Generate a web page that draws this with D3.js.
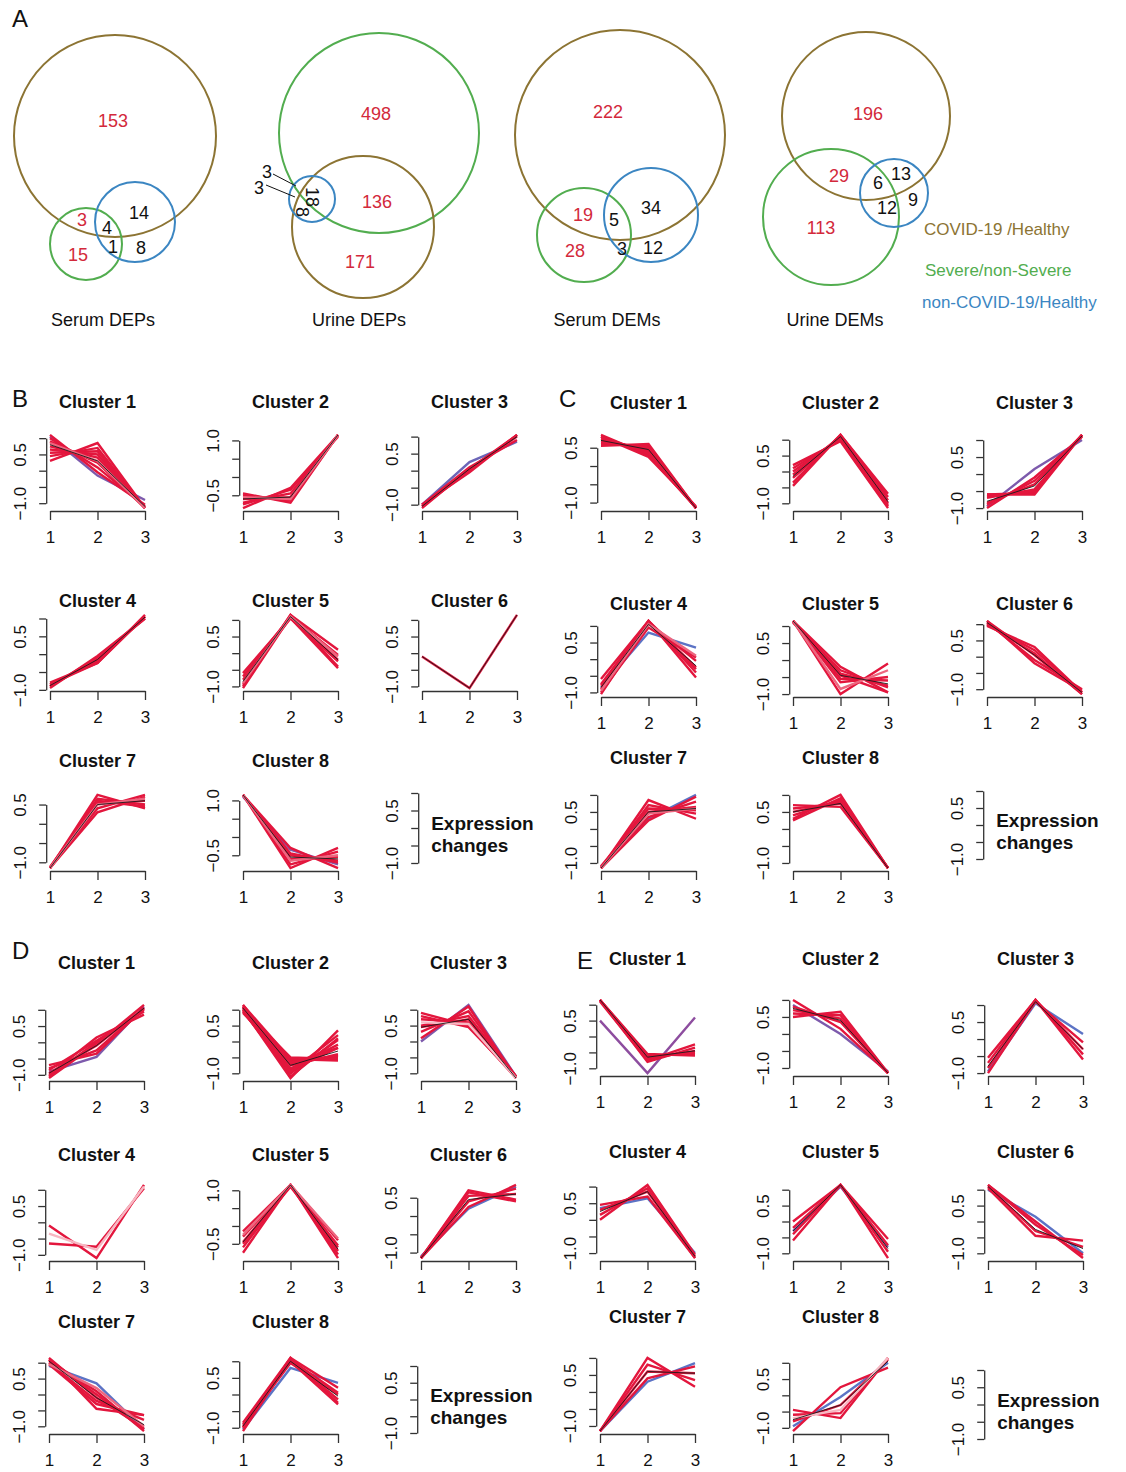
<!DOCTYPE html>
<html lang="en">
<head>
<meta charset="UTF-8">
<title>DEPs / DEMs clusters</title>
<script src="https://cdn.jsdelivr.net/npm/d3@7"></script>
<style>
  body { margin: 0; background-color: #ffffff; }
  text { font-family: "Liberation Sans", Arial, sans-serif; fill: #111; }
  .panel-letter { font-size: 24px; }
  .venn-title { font-size: 18px; }
  .venn-count { font-size: 18px; }
  .venn-legend { font-size: 17px; }
  .cluster-title { font-size: 18px; font-weight: bold; }
  .axis text { font-size: 17px; fill: #111; }
  .axis line, .axis path { stroke: #333; stroke-width: 1.3px; }
  .expr { font-size: 19px; font-weight: bold; }
  .profile { fill: none; stroke-width: 2.4px; }
  .center { fill: none; stroke: #1a1a1a; stroke-width: 0.9px; }
</style>
</head>
<body>
<script>
var width = 1126, height = 1472;

// ---- panel A data ----
var vennTitles = ['Serum DEPs', 'Urine DEPs', 'Serum DEMs', 'Urine DEMs'];
var vennSetNames = ['COVID-19 /Healthy', 'Severe/non-Severe', 'non-COVID-19/Healthy'];
var vennCounts = [
  [153, 3, 4, 14, 15, 1, 8],
  [498, 136, 171, 18, 8, 3, 3],
  [222, 19, 5, 34, 28, 3, 12],
  [196, 29, 6, 13, 12, 9, 113]
];
// A = COVID-19/Healthy, B = Severe/non-Severe, C = non-COVID-19/Healthy
var vennRegions = [
  ['A', 'AB', 'ABC', 'AC', 'B', 'BC', 'C'],
  ['B', 'AB', 'A', 'ABC', 'AC', 'BC', 'C'],
  ['A', 'AB', 'ABC', 'AC', 'B', 'BC', 'C'],
  ['A', 'AB', 'ABC', 'AC', 'BC', 'C', 'B']
];

// ---- panels B-E data: z-scored profiles over 3 groups ----
var xPoints = [1, 2, 3];
var clusterNames = ['Cluster 1', 'Cluster 2', 'Cluster 3', 'Cluster 4', 'Cluster 5', 'Cluster 6', 'Cluster 7', 'Cluster 8'];

var serumDEPsProfiles = [
  [[1.05,-0.15,-0.9],[1.1,-0.05,-1.05],[1.0,0.1,-1.1],[0.9,0.25,-1.15],[0.75,0.4,-1.15],[0.65,0.5,-1.15],[0.55,0.6,-1.15],[0.45,0.7,-1.15],[0.3,0.85,-1.15],[0.85,0.3,-1.15]],
  [[-0.6,-0.55,1.15],[-0.45,-0.7,1.15],[-0.7,-0.45,1.15],[-0.75,-0.35,1.1],[-0.5,-0.65,1.15],[-0.85,-0.3,1.15],[-0.55,-0.6,1.15]],
  [[-1.0,0.25,0.85],[-1.05,0.0,1.05],[-1.0,0.1,0.9],[-1.1,0.05,1.05],[-1.0,-0.05,1.05],[-1.05,0.05,1.0]],
  [[-0.9,-0.15,1.05],[-0.85,-0.2,1.05],[-0.95,-0.05,1.0],[-0.8,-0.25,1.05],[-0.9,-0.1,1.0],[-0.85,-0.25,1.1]],
  [[-1.05,1.1,-0.05],[-0.95,1.15,-0.2],[-0.8,1.05,-0.25],[-0.7,1.1,-0.4],[-0.6,1.05,-0.45],[-1.0,1.15,0.1],[-0.9,1.1,-0.1]],
  [[-0.1,-1.05,1.15]],
  [[-1.15,0.75,0.4],[-1.15,0.65,0.5],[-1.15,0.55,0.6],[-1.15,0.4,0.75],[-1.15,0.3,0.7],[-1.12,0.6,0.45],[-1.15,0.5,0.65]],
  [[1.1,-0.35,-0.75],[1.15,-0.3,-0.85],[1.15,-0.45,-0.7],[1.15,-0.6,-0.55],[1.15,-0.75,-0.4],[1.15,-0.85,-0.3],[1.15,-0.5,-0.65],[1.15,-0.65,-0.5]]
];
var serumDEPsMembership = [
  [0.45,0.8,0.8,0.8,0.85,0.85,0.8,0.8,0.8,0.95],
  [0.8,0.8,0.8,0.8,0.85,0.8,0.95],
  [0.4,0.8,0.8,0.8,0.85,0.8],
  [0.8,0.8,0.8,0.8,0.85,0.8],
  [0.8,0.8,0.8,0.8,0.8,0.8,0.95],
  [0.8],
  [0.8,0.8,0.8,0.8,0.8,0.8,0.95],
  [0.45,0.8,0.8,0.8,0.8,0.8,0.8,0.95]
];
var serumDEPsCenters = [[0.8,0.3,-1.1],[-0.6,-0.55,1.15],[-1.05,0.05,1.0],[-0.88,-0.15,1.04],[-0.85,1.1,-0.2],[-0.1,-1.05,1.15],[-1.15,0.5,0.6],[1.15,-0.55,-0.6]];

var serumDEMsProfiles = [
  [[0.85,0.3,-1.15],[0.75,0.4,-1.15],[0.7,0.45,-1.15],[0.6,0.55,-1.15],[0.55,0.6,-1.15],[0.8,0.35,-1.15],[0.65,0.5,-1.15],[0.8,0.25,-1.1]],
  [[0.2,0.95,-1.15],[0.0,1.05,-1.05],[-0.2,1.1,-0.9],[-0.35,1.15,-0.8],[-0.45,1.15,-0.7],[-0.1,1.1,-1.0],[0.1,1.0,-1.1]],
  [[-0.95,0.15,1.0],[-0.6,-0.55,1.15],[-0.7,-0.45,1.15],[-0.85,-0.3,1.15],[-1.0,-0.1,1.1],[-0.65,-0.5,1.15],[-0.9,-0.2,1.1],[-0.6,-0.6,1.15]],
  [[-0.85,0.8,0.35],[-1.05,1.1,-0.05],[-0.9,1.15,-0.25],[-0.75,1.15,-0.4],[-0.6,1.15,-0.55],[-1.0,0.95,0.05],[-0.8,1.1,-0.3],[-0.95,1.05,0.1]],
  [[1.15,-0.2,-0.95],[1.15,-0.4,-0.75],[1.15,-0.55,-0.6],[1.1,-0.3,-0.8],[1.15,-0.65,-0.5],[1.15,-1.0,-0.1],[1.15,-0.45,-0.95],[1.15,-0.85,-0.3]],
  [[1.1,0.05,-1.15],[1.0,0.2,-1.1],[1.05,-0.1,-1.0],[0.95,0.3,-1.1],[1.1,-0.2,-1.05],[1.0,0.1,-1.15]],
  [[-1.1,0.3,1.0],[-1.15,0.85,0.3],[-1.15,0.7,0.45],[-1.15,0.5,0.65],[-1.15,0.35,0.8],[-1.15,0.25,0.95],[-1.1,0.6,0.55],[-1.15,0.45,0.6]],
  [[0.7,0.65,-1.15],[0.5,0.8,-1.15],[0.3,1.0,-1.15],[0.6,0.75,-1.15],[0.25,0.9,-1.15],[0.4,0.85,-1.15]]
];
var serumDEMsMembership = [
  [0.8,0.8,0.8,0.8,0.8,0.8,0.8,0.8],
  [0.8,0.8,0.8,0.8,0.8,0.8,0.8],
  [0.45,0.8,0.8,0.8,0.8,0.8,0.8,0.8],
  [0.35,0.8,0.8,0.8,0.8,0.8,0.8,0.95],
  [0.8,0.8,0.8,0.8,0.8,0.8,0.8,0.95],
  [0.8,0.8,0.8,0.8,0.8,0.8],
  [0.35,0.8,0.8,0.8,0.8,0.8,0.8,0.95],
  [0.8,0.8,0.8,0.8,0.8,0.8]
];
var serumDEMsCenters = [[0.7,0.45,-1.15],[-0.15,1.1,-0.95],[-0.8,-0.35,1.12],[-0.85,1.05,-0.2],[1.15,-0.45,-0.7],[1.05,0.05,-1.1],[-1.15,0.5,0.6],[0.5,0.75,-1.15]];

var urineDEPsProfiles = [
  [[-0.9,-0.45,1.1],[-1.1,-0.05,1.15],[-0.95,-0.1,1.05],[-0.8,-0.25,1.05],[-0.7,-0.35,1.05],[-1.0,0.15,0.85],[-1.05,0.0,1.0],[-0.85,0.05,0.95]],
  [[1.15,-0.75,-0.4],[1.1,-0.6,-0.5],[1.0,-0.5,-0.55],[0.95,-1.0,0.05],[1.05,-1.1,0.1],[1.0,-1.15,0.35],[1.1,-0.9,-0.2],[0.9,-0.7,-0.2],[1.15,-0.55,-0.6],[1.05,-0.85,-0.1],[0.95,-0.95,0.2],[1.1,-0.65,-0.45]],
  [[0.0,1.15,-1.1],[0.9,0.5,-1.15],[0.7,0.6,-1.1],[0.5,0.8,-1.1],[0.3,0.95,-1.1],[0.1,1.1,-1.15],[0.45,0.7,-1.1],[0.8,0.45,-1.1],[0.6,0.55,-1.15]],
  [[-0.1,-1.1,1.15],[-0.65,-0.75,1.05],[-0.35,-0.85,1.1]],
  [[-0.15,1.15,-0.9],[-0.3,1.15,-0.8],[-0.45,1.15,-0.7],[-0.6,1.15,-0.55],[-0.75,1.15,-0.4],[-0.5,1.1,-0.6],[-0.25,1.15,-0.35]],
  [[-1.1,0.2,0.8],[-1.15,0.7,0.45],[-1.15,0.55,0.6],[-1.15,0.4,0.75],[-1.15,0.25,0.85],[-1.15,0.65,0.4]],
  [[0.9,0.35,-1.1],[1.15,-0.1,-1.05],[1.05,0.1,-1.15],[0.95,-0.3,-0.65],[1.1,-0.45,-0.65],[1.0,-0.2,-0.8],[1.1,0.0,-1.1],[0.95,0.2,-1.0]],
  [[-1.05,0.8,0.35],[-1.1,1.05,0.05],[-0.85,1.1,-0.25],[-0.95,0.95,0.0],[-0.9,1.05,-0.15],[-1.0,1.1,0.2],[-1.0,1.0,-0.3]]
];
var urineDEPsMembership = [
  [0.45,0.8,0.8,0.8,0.8,0.8,0.8,0.8],
  [0.8,0.8,0.8,0.8,0.8,0.8,0.8,0.8,0.8,0.8,0.8,0.8],
  [0.45,0.8,0.8,0.8,0.8,0.8,0.8,0.8,1.0],
  [0.8,0.8,1.0],
  [0.8,0.8,0.8,0.8,0.8,0.8,0.95],
  [0.35,0.8,0.8,0.8,0.8,0.8],
  [0.35,0.8,0.8,0.8,0.8,0.8,0.8,0.95],
  [0.35,0.8,0.8,0.8,0.8,0.8,0.8]
];
var urineDEPsCenters = [[-0.95,-0.1,1.05],[1.05,-0.75,-0.3],[0.45,0.7,-1.15],null,[-0.45,1.15,-0.65],[-1.15,0.45,0.6],[1.05,-0.1,-0.95],[-0.95,1.0,-0.05]];

var urineDEMsProfiles = [
  [[0.5,-1.15,0.6],[1.15,-0.6,-0.55],[1.15,-0.7,-0.45],[1.15,-0.8,-0.35],[1.15,-0.55,-0.6],[1.1,-0.75,-0.25],[1.15,-0.65,-0.5]],
  [[0.85,0.0,-1.1],[1.0,0.15,-1.15],[0.8,0.35,-1.15],[0.6,0.55,-1.15],[0.5,0.65,-1.15],[0.7,0.45,-1.15]],
  [[-0.95,1.05,0.15],[-1.0,1.1,-0.1],[-0.85,1.15,-0.3],[-0.7,1.15,-0.45],[-0.55,1.15,-0.6]],
  [[0.35,0.65,-1.0],[0.45,0.7,-1.15],[0.3,0.85,-1.15],[0.15,0.95,-1.1],[0.0,1.05,-1.05]],
  [[-0.3,1.1,-0.8],[0.0,1.15,-1.15],[-0.2,1.15,-0.95],[-0.4,1.15,-0.75],[-0.6,1.15,-0.55]],
  [[1.0,0.15,-1.0],[1.15,-0.1,-1.05],[1.1,-0.3,-0.8],[1.05,-0.45,-0.6],[1.15,0.0,-1.15]],
  [[-1.15,0.3,0.85],[-1.15,1.0,0.15],[-1.15,0.8,0.35],[-1.15,0.6,0.55],[-1.15,0.4,0.75]],
  [[-0.95,-0.05,1.0],[-0.45,-0.7,1.15],[-0.6,-0.55,1.15],[-0.8,-0.3,1.1],[-1.1,0.25,0.85],[-0.7,-0.45,1.15]]
];
var urineDEMsMembership = [
  [0.5,0.8,0.8,0.8,0.8,0.8,0.8],
  [0.45,0.8,0.8,0.8,0.8,0.8],
  [0.35,0.8,0.8,0.8,0.8],
  [0.35,0.8,0.8,0.8,0.8],
  [0.45,0.8,0.8,0.8,0.8],
  [0.35,0.8,0.8,0.8,0.8],
  [0.35,0.8,0.8,0.8,0.8],
  [0.35,0.8,0.8,0.8,0.8,1.0]
];
var urineDEMsCenters = [[1.15,-0.65,-0.45],[0.75,0.4,-1.15],[-0.8,1.1,-0.3],[0.25,0.85,-1.1],[-0.3,1.15,-0.85],[1.1,-0.25,-0.85],[-1.15,0.6,0.55],[-0.75,-0.3,1.05]];

var legendRange = [-1, 1];
var legendTicks = [-1, -0.5, 0, 0.5, 1];

// ---- layout ----
var vennAnchorX = [103, 359, 607, 835];
// [set, cx, cy, r] in diagram units
var vennCircleGeom = [
  [[0, 12, 136, 101], [1, -17, 244, 36], [2, 32, 222, 40]],
  [[1, 20, 133, 100], [0, 4, 227, 71], [2, -47, 199, 23]],
  [[0, 13, 135, 105], [1, -23, 235, 47], [2, 44, 215, 47]],
  [[0, 31, 116, 84], [1, -4, 217, 68], [2, 59, 193, 34]]
];
var vennLabelGeom = [
  [[10,121],[-21,220],[4,228],[36,213],[-25,255],[10,247],[38,248]],
  [[17,114],[18,202],[1,262],[-47,197],[-57,212],[-92,172],[-100,188]],
  [[1,112],[-24,215],[7,220],[44,208],[-32,251],[15,249],[46,248]],
  [[33,114],[4,176],[43,183],[66,174],[52,208],[78,200],[-14,228]]
];
var vennRotated = [[], [3, 4], [], []];
var vennLeaders = [[], [[-86, 174, -63, 186], [-93, 185, -64, 197]], [], []];

var layout = {
  B: {letter: [12, 407], x1: [50, 243, 422], rows: [[402, 511], [601, 691], [761, 871]], legendY: [863, 793]},
  C: {letter: [559, 407], x1: [601, 793, 987], rows: [[403, 511], [604, 697], [758, 871]], legendY: [859, 791]},
  D: {letter: [12, 959], x1: [49, 243, 421], rows: [[963, 1081], [1155, 1261], [1322, 1434]], legendY: [1433, 1366]},
  E: {letter: [577, 969], x1: [600, 793, 988], rows: [[959, 1076], [1152, 1261], [1317, 1434]], legendY: [1439, 1370]}
};
var plotW = 95, plotH = 79, padFrac = 0.04;

var svg = d3.select('body').append('svg')
  .attr('width', width)
  .attr('height', height);

var setColor = d3.scaleOrdinal().domain([0, 1, 2]).range(['#8c7433', '#52ad4f', '#3b86c2']);
var memberColor = d3.scaleLinear()
  .domain([0.3, 0.5, 0.7, 0.9, 1.0])
  .range(['#4b7fd1', '#8d4d9f', '#e3163d', '#e3163d', '#f7b7c2'])
  .clamp(true);
var fmt = d3.format('.1f');

svg.append('text').attr('class', 'panel-letter').attr('x', 12).attr('y', 27).text('A');

// ---- Venn diagrams ----
vennTitles.forEach(function (title, v) {
  var vx = d3.scaleLinear().domain([0, 1]).range([vennAnchorX[v], vennAnchorX[v] + 1]);
  var vy = d3.scaleLinear().domain([0, 1]).range([0, 1]);
  var g = svg.append('g');

  g.selectAll('circle')
    .data(vennCircleGeom[v])
    .enter()
    .append('circle')
    .attr('cx', function (d) { return vx(d[1]); })
    .attr('cy', function (d) { return vy(d[2]); })
    .attr('r', function (d) { return vy(d[3]) - vy(0); })
    .style('fill', 'none')
    .style('stroke', function (d) { return setColor(d[0]); })
    .style('stroke-width', 2);

  g.selectAll('line')
    .data(vennLeaders[v])
    .enter()
    .append('line')
    .attr('x1', function (d) { return vx(d[0]); })
    .attr('y1', function (d) { return vy(d[1]); })
    .attr('x2', function (d) { return vx(d[2]); })
    .attr('y2', function (d) { return vy(d[3]); })
    .style('stroke', '#111')
    .style('stroke-width', 1);

  g.selectAll('.venn-count')
    .data(vennCounts[v])
    .enter()
    .append('text')
    .attr('class', 'venn-count')
    .attr('transform', function (d, i) {
      var p = vennLabelGeom[v][i];
      var rot = vennRotated[v].indexOf(i) >= 0 ? ' rotate(90)' : '';
      return 'translate(' + vx(p[0]) + ',' + vy(p[1]) + ')' + rot;
    })
    .attr('dy', '0.36em')
    .style('text-anchor', 'middle')
    .style('fill', function (d, i) {
      return vennRegions[v][i].indexOf('C') >= 0 ? '#111' : '#d3293b';
    })
    .text(function (d) { return d; });

  g.append('text')
    .attr('class', 'venn-title')
    .attr('x', vx(0))
    .attr('y', vy(326))
    .style('text-anchor', 'middle')
    .text(title);
});

svg.selectAll('.venn-legend')
  .data(vennSetNames)
  .enter()
  .append('text')
  .attr('class', 'venn-legend')
  .attr('x', function (d, i) { return [924, 925, 922][i]; })
  .attr('y', function (d, i) { return [235, 276, 308][i]; })
  .style('fill', function (d, i) { return setColor(i); })
  .text(function (d) { return d; });

// ---- cluster profile plots ----
function drawCluster(profiles, members, center, title, x1, titleY, axisY) {
  var g = svg.append('g');
  var xs = d3.scaleLinear().domain([1, 3]).range([x1, x1 + plotW]);
  var all = d3.merge(profiles).reduce(function (a, p) { return a.concat(p); }, []);
  if (center) { all = all.concat(center); }
  var lo = d3.min(all), hi = d3.max(all);
  var pad = (hi - lo) * padFrac;
  var ys = d3.scaleLinear().domain([lo - pad, hi + pad]).range([axisY, axisY - plotH]);
  var ticks = d3.range(Math.ceil((lo - pad) / 0.5), Math.floor((hi + pad) / 0.5) + 1)
    .map(function (k) { return k * 0.5; });
  var yAxisScale = d3.scaleLinear()
    .domain([ticks[0], ticks[ticks.length - 1]])
    .range([ys(ticks[0]), ys(ticks[ticks.length - 1])]);

  g.append('g')
    .attr('class', 'axis')
    .attr('transform', 'translate(' + xs(1 - 2 * padFrac) + ',0)')
    .call(d3.axisLeft(yAxisScale).tickValues(ticks).tickSize(7).tickSizeOuter(0)
      .tickFormat(function (d, i) { return i % 3 === 0 ? fmt(d) : ''; }))
    .call(function (a) {
      a.selectAll('text')
        .attr('transform', 'rotate(-90)')
        .attr('x', 0)
        .attr('y', -20)
        .attr('dy', null)
        .style('text-anchor', 'middle');
    });

  g.append('g')
    .attr('class', 'axis')
    .attr('transform', 'translate(0,' + axisY + ')')
    .call(d3.axisBottom(xs).tickValues(xPoints).tickSize(9).tickSizeOuter(0).tickPadding(11)
      .tickFormat(d3.format('d')));

  var line = d3.line()
    .x(function (d, i) { return xs(xPoints[i]); })
    .y(function (d) { return ys(d); });

  var order = d3.range(profiles.length).sort(function (a, b) { return members[a] - members[b]; });
  g.selectAll('.profile')
    .data(order)
    .enter()
    .append('path')
    .attr('class', 'profile')
    .attr('d', function (i) { return line(profiles[i]); })
    .style('stroke', function (i) { return memberColor(members[i]); });

  if (center) {
    g.append('path').attr('class', 'center').attr('d', line(center));
  }

  g.append('text')
    .attr('class', 'cluster-title')
    .attr('x', xs(2))
    .attr('y', titleY + 6)
    .style('text-anchor', 'middle')
    .text(title);
}

function drawLegend(x1, yBottom, yTop) {
  var axX = x1 - plotW * padFrac;
  var ls = d3.scaleLinear().domain(legendRange).range([yBottom, yTop]);
  var g = svg.append('g');
  g.append('g')
    .attr('class', 'axis')
    .attr('transform', 'translate(' + axX + ',0)')
    .call(d3.axisLeft(ls).tickValues(legendTicks).tickSize(7).tickSizeOuter(0)
      .tickFormat(function (d, i) { return i % 3 === 0 ? fmt(d) : ''; }))
    .call(function (a) {
      a.selectAll('text')
        .attr('transform', 'rotate(-90)')
        .attr('x', 0)
        .attr('y', -20)
        .attr('dy', null)
        .style('text-anchor', 'middle');
    });
  var mid = (yBottom + yTop) / 2;
  g.append('text').attr('class', 'expr').attr('x', axX + 13).attr('y', mid + 2).text('Expression');
  g.append('text').attr('class', 'expr').attr('x', axX + 13).attr('y', mid + 24).text('changes');
}

var panels = [
  ['B', serumDEPsProfiles, serumDEPsMembership, serumDEPsCenters],
  ['C', serumDEMsProfiles, serumDEMsMembership, serumDEMsCenters],
  ['D', urineDEPsProfiles, urineDEPsMembership, urineDEPsCenters],
  ['E', urineDEMsProfiles, urineDEMsMembership, urineDEMsCenters]
];

panels.forEach(function (p) {
  var lay = layout[p[0]];
  svg.append('text').attr('class', 'panel-letter')
    .attr('x', lay.letter[0]).attr('y', lay.letter[1]).text(p[0]);
  p[1].forEach(function (profiles, c) {
    var row = Math.floor(c / 3), col = c % 3;
    drawCluster(profiles, p[2][c], p[3][c], clusterNames[c],
      lay.x1[col], lay.rows[row][0], lay.rows[row][1]);
  });
  drawLegend(lay.x1[2], lay.legendY[0], lay.legendY[1]);
});
</script>
</body>
</html>
